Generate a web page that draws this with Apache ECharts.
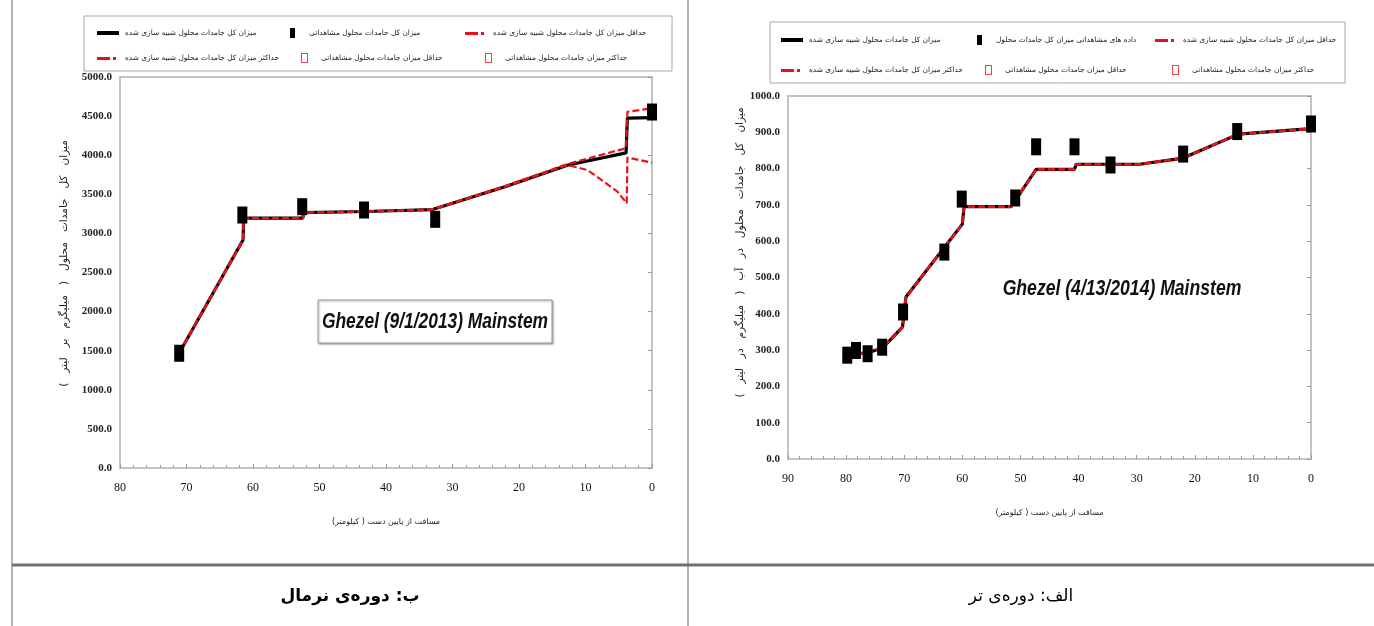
<!DOCTYPE html>
<html><head><meta charset="utf-8">
<script src="https://cdn.jsdelivr.net/npm/echarts@6/dist/echarts.min.js"></script>
<style>html,body{margin:0;padding:0;background:#fff}#c{width:1374px;height:626px}</style>
</head><body><div id="c" dir="rtl"></div>
<script>
// ---------- Data: (b) normal period, Ghezel 9/1/2013 ----------
const simKmN  = [71.1, 61.5, 61.4, 52.5, 52.4, 43.0, 33.0, 22.0, 12.6, 3.9, 3.7, 0];
const simTdsN = [1470, 2915, 3195, 3195, 3265, 3280, 3305, 3600, 3875, 4030, 4475, 4480];
const minKmN  = [71.1, 61.5, 61.4, 52.5, 52.4, 43.0, 33.0, 22.0, 12.7, 9.7, 7.2, 5.2, 3.8, 3.7, 0];
const minTdsN = [1470, 2915, 3195, 3195, 3265, 3280, 3305, 3600, 3875, 3810, 3660, 3535, 3385, 3970, 3905];
const maxKmN  = [71.1, 61.5, 61.4, 52.5, 52.4, 43.0, 33.0, 22.0, 12.6, 3.9, 3.7, 0];
const maxTdsN = [1470, 2915, 3195, 3195, 3265, 3280, 3305, 3610, 3890, 4090, 4555, 4600];
const obsKmN  = [71.1, 61.6, 52.6, 43.3, 32.6, 0];
const obsTdsN = [1467, 3235, 3342, 3299, 3180, 4552];

// ---------- Data: (a) wet period, Ghezel 4/13/2014 ----------
const simKmW  = [80.0, 76.5, 73.8, 70.3, 69.7, 60.0, 59.7, 51.6, 47.3, 40.7, 40.4, 29.5, 22.0, 12.5, 0];
const simTdsW = [288, 292, 305, 363, 446, 647, 695, 695, 798, 798, 812, 812, 829, 895, 910];
const minKmW  = [80.0, 76.5, 73.8, 70.3, 69.7, 60.0, 59.7, 51.6, 47.3, 40.7, 40.4, 29.5, 22.0, 12.5, 0];
const minTdsW = [288, 292, 305, 363, 446, 647, 695, 695, 798, 798, 812, 812, 829, 895, 910];
const maxKmW  = [80.0, 76.5, 73.8, 70.3, 69.7, 60.0, 59.7, 51.6, 47.3, 40.7, 40.4, 29.5, 22.0, 12.5, 0];
const maxTdsW = [288, 292, 305, 363, 446, 647, 695, 695, 798, 798, 812, 812, 829, 895, 910];
const obsKmW  = [79.8, 78.3, 76.3, 73.8, 70.2, 63.1, 60.1, 50.9, 47.3, 40.7, 34.5, 22.0, 12.7, 0];
const obsTdsW = [286, 299, 290, 308, 405, 570, 716, 719, 860, 860, 810, 840, 902, 923];

// ---------- Text ----------
const nSim    = 'میزان کل جامدات محلول شبیه سازی شده';
const nObsN   = 'میزان کل جامدات محلول مشاهداتی';
const nObsW   = 'داده های مشاهداتی میزان کل جامدات محلول';
const nMinSim = 'حداقل میزان کل جامدات محلول شبیه سازی شده';
const nMaxSim = 'حداکثر میزان کل جامدات محلول شبیه سازی شده';
const nMinObs = 'حداقل میزان جامدات محلول مشاهداتی';
const nMaxObs = 'حداکثر میزان جامدات محلول مشاهداتی';
const yNameN  = 'میزان   کل   جامدات   محلول   (   میلیگرم   بر   لیتر   )';
const yNameW  = 'میزان   کل   جامدات   محلول   در   آب   (   میلیگرم   در   لیتر   )';
const xName   = 'مسافت از پایین دست ( کیلومتر)';
const titleN  = 'Ghezel (9/1/2013) Mainstem';
const titleW  = 'Ghezel (4/13/2014) Mainstem';
const capN    = 'ب: دوره‌ی نرمال';
const capW    = 'الف: دوره‌ی تر';

const FA = 'DejaVu Sans', SERIF = 'Liberation Serif';
const GRAY = '#c4c4c4', RED = '#e8121a';
const pairs = (xs, ys) => xs.map((x, i) => [x, ys[i]]);

const ICON_LINE = 'path://M0,0M24,10M1,3H23V7H1Z';
const ICON_SQ   = 'path://M0,0M24,10M10,0H15V10H10Z';
const ICON_DASH = 'path://M0,0M24,10M1,4H14V7H1ZM17,4H20V7H17Z';
const ICON_HOL  = 'path://M0,0M24,10M9,0H16V10H9ZM10,1V9H15V1Z';

function legendRow(left, top, items, textW, gap) {
  return {
    left, top, orient: 'horizontal', width: 900,
    itemWidth: 24, itemHeight: 10, itemGap: gap, padding: 0,
    selectedMode: false,
    textStyle: { fontFamily: FA, fontSize: 7.4, color: '#222', width: textW, lineHeight: 13 },
    data: items
  };
}
const itm = (name, icon, color) => ({ name, icon, itemStyle: { color, borderWidth: 0 } });

function xAxisCfg(gi, max, gap) {
  return {
    type: 'value', gridIndex: gi, inverse: true, min: 0, max, interval: 10,
    name: xName, nameLocation: 'middle', nameGap: gap,
    nameTextStyle: { fontFamily: FA, fontSize: 8, color: '#222' },
    axisLine: { show: true, lineStyle: { color: GRAY, width: 2 } },
    axisTick: { show: true, inside: true, length: 4, lineStyle: { color: '#999' } },
    minorTick: { show: true, splitNumber: 5, length: 3, lineStyle: { color: '#999' } },
    axisLabel: { fontFamily: SERIF, fontSize: 12, color: '#111', margin: 14 },
    splitLine: { show: false }
  };
}
function yAxisCfg(gi, max, interval, name, gap, padL) {
  return {
    type: 'value', gridIndex: gi, min: 0, max, interval,
    name, nameLocation: 'middle', nameGap: gap,
    nameTextStyle: { fontFamily: FA, fontSize: 10.5, color: '#222', padding: [0, 0, 0, padL] },
    axisLine: { show: true, lineStyle: { color: GRAY, width: 2 } },
    axisTick: { show: false },
    axisLabel: { fontFamily: SERIF, fontSize: 11, fontWeight: 'bold', color: '#222', margin: 8,
                 formatter: v => v.toFixed(1) },
    splitLine: { show: false }
  };
}
function yAxisRight(gi, max, interval) {
  return {
    type: 'value', gridIndex: gi, min: 0, max, interval, position: 'right',
    axisLine: { show: true, lineStyle: { color: GRAY, width: 2 } },
    axisTick: { show: true, inside: true, length: 4, lineStyle: { color: '#999' } },
    axisLabel: { show: false }, splitLine: { show: false }
  };
}

function seriesSet(xi, yi, sim, mn, mx, obs, obsName) {
  const dash = { color: RED, width: 2.2, type: [7, 3] };
  return [
    { type: 'line', name: nSim, xAxisIndex: xi, yAxisIndex: yi, data: sim, symbol: 'none',
      lineStyle: { color: '#000', width: 3.2 }, itemStyle: { color: '#000' }, z: 2 },
    { type: 'line', name: nMinSim, xAxisIndex: xi, yAxisIndex: yi, data: mn, symbol: 'none',
      lineStyle: dash, itemStyle: { color: RED }, z: 3 },
    { type: 'line', name: nMaxSim, xAxisIndex: xi, yAxisIndex: yi, data: mx, symbol: 'none',
      lineStyle: dash, itemStyle: { color: RED }, z: 3 },
    { type: 'scatter', name: obsName, xAxisIndex: xi, yAxisIndex: yi, data: obs,
      symbol: 'rect', symbolSize: [10, 17], itemStyle: { color: '#000', opacity: 1 }, z: 5 },
    { type: 'scatter', name: nMinObs, xAxisIndex: xi, yAxisIndex: yi, data: [],
      symbol: 'rect', symbolSize: [6, 10], itemStyle: { color: 'none', borderColor: RED, borderWidth: 1 } },
    { type: 'scatter', name: nMaxObs, xAxisIndex: xi, yAxisIndex: yi, data: [],
      symbol: 'rect', symbolSize: [6, 10], itemStyle: { color: 'none', borderColor: RED, borderWidth: 1 } }
  ];
}

const chart = echarts.init(document.getElementById('c'), null, { renderer: 'canvas' });
chart.setOption({
  backgroundColor: '#fff',
  animation: false,
  legend: [
    legendRow(96, 26.5, [itm(nSim, ICON_LINE, '#000'), itm(nObsN, ICON_SQ, '#000'), itm(nMinSim, ICON_DASH, RED)], 142, 13),
    legendRow(96, 51.5, [itm(nMaxSim, ICON_DASH, RED), itm(nMinObs, ICON_HOL, RED), itm(nMaxObs, ICON_HOL, RED)], 142, 13),
    legendRow(780, 33.5, [itm(nSim, ICON_LINE, '#000'), itm(nObsW, ICON_SQ, '#000'), itm(nMinSim, ICON_DASH, RED)], 145, 13),
    legendRow(780, 63.5, [itm(nMaxSim, ICON_DASH, RED), itm(nMinObs, ICON_HOL, RED), itm(nMaxObs, ICON_HOL, RED)], 145, 13)
  ],
  grid: [
    { left: 120, top: 77, width: 532, height: 391, show: true, borderColor: GRAY, borderWidth: 2 },
    { left: 788, top: 96, width: 523, height: 363, show: true, borderColor: GRAY, borderWidth: 2 }
  ],
  xAxis: [xAxisCfg(0, 80, 50), xAxisCfg(1, 90, 50)],
  yAxis: [
    yAxisCfg(0, 5000, 500, yNameN, 50, 18),
    yAxisCfg(1, 1000, 100, yNameW, 42, 50),
    yAxisRight(0, 5000, 500),
    yAxisRight(1, 1000, 100)
  ],
  series: [
    ...seriesSet(0, 0, pairs(simKmN, simTdsN), pairs(minKmN, minTdsN), pairs(maxKmN, maxTdsN), pairs(obsKmN, obsTdsN), nObsN),
    ...seriesSet(1, 1, pairs(simKmW, simTdsW), pairs(minKmW, minTdsW), pairs(maxKmW, maxTdsW), pairs(obsKmW, obsTdsW), nObsW)
  ],
  graphic: [
    { type: 'rect', shape: { x: 84, y: 16, width: 588, height: 55 }, z: -1, silent: true,
      style: { fill: '#fff', stroke: '#a8a8a8', lineWidth: 1 } },
    { type: 'rect', shape: { x: 770, y: 22, width: 575, height: 61 }, z: -1, silent: true,
      style: { fill: '#fff', stroke: '#a8a8a8', lineWidth: 1 } },
    { type: 'line', shape: { x1: 688, y1: 0, x2: 688, y2: 626 }, style: { stroke: '#9a9a9a', lineWidth: 1.5 }, silent: true },
    { type: 'line', shape: { x1: 12, y1: 0, x2: 12, y2: 626 }, style: { stroke: '#9a9a9a', lineWidth: 1.5 }, silent: true },
    { type: 'line', shape: { x1: 12, y1: 565, x2: 1374, y2: 565 }, style: { stroke: '#707070', lineWidth: 3 }, silent: true },
    { type: 'rect', shape: { x: 318, y: 300, width: 234, height: 43 }, z: 10,
      style: { fill: '#fff', stroke: '#9a9a9a', lineWidth: 1, shadowBlur: 2, shadowOffsetX: 1, shadowOffsetY: 1, shadowColor: 'rgba(0,0,0,0.35)' }, silent: true },
    { type: 'text', x: 435, y: 322, scaleX: 0.79, z: 11, silent: true,
      style: { text: titleN, font: 'italic bold 22px "Liberation Sans"', fill: '#111', align: 'center', verticalAlign: 'middle' } },
    { type: 'text', x: 1122, y: 289, scaleX: 0.8, z: 11, silent: true,
      style: { text: titleW, font: 'italic bold 22px "Liberation Sans"', fill: '#111', align: 'center', verticalAlign: 'middle' } },
    { type: 'text', x: 350, y: 597, z: 11, silent: true,
      style: { text: capN, font: 'bold 17px "DejaVu Sans"', fill: '#000', align: 'center', verticalAlign: 'middle' } },
    { type: 'text', x: 1021, y: 597, z: 11, silent: true,
      style: { text: capW, font: '17px "DejaVu Sans"', fill: '#000', align: 'center', verticalAlign: 'middle' } }
  ]
});
</script></body></html>
